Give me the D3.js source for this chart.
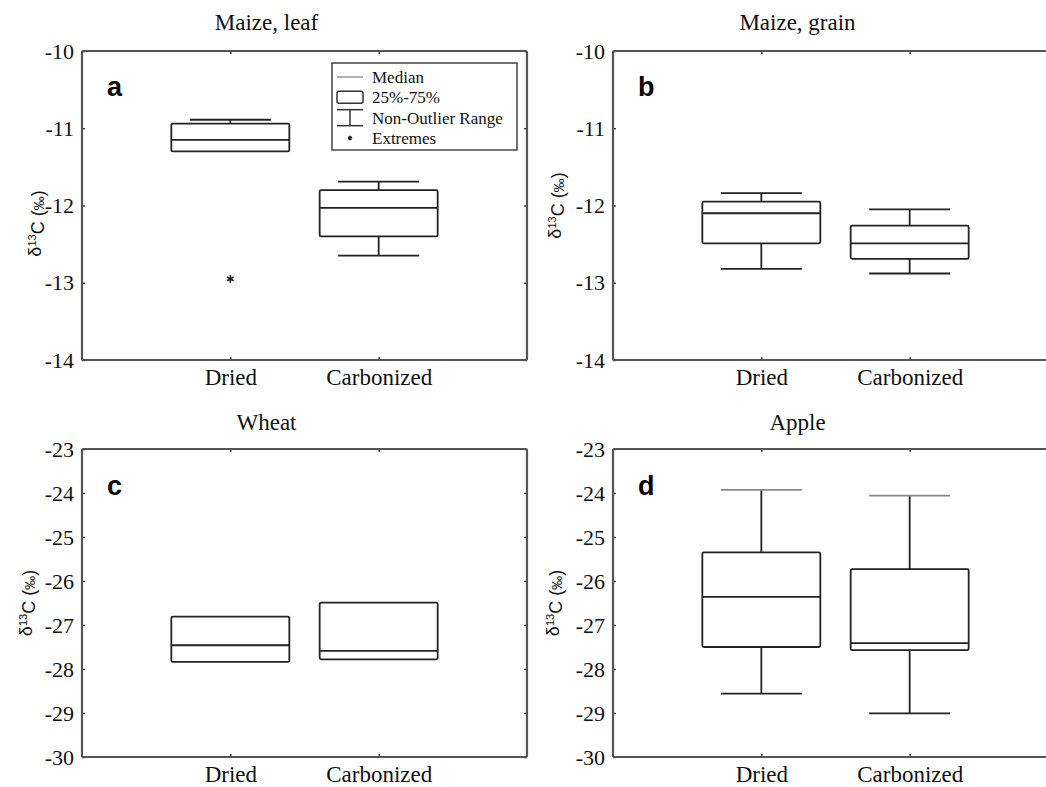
<!DOCTYPE html>
<html>
<head>
<meta charset="utf-8">
<script src="https://cdn.jsdelivr.net/npm/d3@7"></script>
<style>
  body { margin: 0; background: #fff; }
  .tick text { font-family: "Liberation Serif", "Times New Roman", serif; fill: #111; }
  .tick line { stroke: #444; stroke-width: 1.5; }
</style>
</head>
<body>
<div id="chart"></div>
<script>
// Data
const categories = ["Dried", "Carbonized"];
const panelTitles = ["Maize, leaf", "Maize, grain", "Wheat", "Apple"];
const panelLetters = ["a", "b", "c", "d"];
const yDomains = [[-14, -10], [-14, -10], [-30, -23], [-30, -23]];
const maizeTicks = [-14, -13, -12, -11, -10];
const c3Ticks = [-30, -29, -28, -27, -26, -25, -24, -23];

// box stats: lo / hi = non-outlier range (null = no whisker)
const maizeLeaf = [
  { cat: "Dried", lo: null, q1: -11.30, med: -11.15, q3: -10.94, hi: -10.89 },
  { cat: "Carbonized", lo: -12.65, q1: -12.40, med: -12.03, q3: -11.80, hi: -11.69 },
];
const maizeGrain = [
  { cat: "Dried", lo: -12.82, q1: -12.49, med: -12.10, q3: -11.95, hi: -11.84 },
  { cat: "Carbonized", lo: -12.88, q1: -12.69, med: -12.49, q3: -12.26, hi: -12.05 },
];
const wheat = [
  { cat: "Dried", lo: null, q1: -27.84, med: -27.46, q3: -26.81, hi: null },
  { cat: "Carbonized", lo: null, q1: -27.78, med: -27.59, q3: -26.49, hi: null },
];
const apple = [
  { cat: "Dried", lo: -28.56, q1: -27.50, med: -26.36, q3: -25.35, hi: -23.93 },
  { cat: "Carbonized", lo: -29.01, q1: -27.57, med: -27.41, q3: -25.73, hi: -24.06 },
];
const maizeLeafExtremes = [{ cat: "Dried", v: -12.95 }];

const legendLabels = ["Median", "25%-75%", "Non-Outlier Range", "Extremes"];

function draw() {
  const panels = [
    { stats: maizeLeaf, extremes: maizeLeafExtremes, ticks: maizeTicks },
    { stats: maizeGrain, extremes: [], ticks: maizeTicks },
    { stats: wheat, extremes: [], ticks: c3Ticks },
    { stats: apple, extremes: [], ticks: c3Ticks },
  ];

  // Dimensions
  let dimensions = {
    width: 1046,
    height: 787,
    ctrWidth: 445,
    lefts: [82, 613, 82, 613],
    tops: [51, 51, 449, 449],
    heights: [309, 309, 308, 308],
    labelDx: [-47, -58, -56, -60],
    labelDy: [18, 0, 0, 0],
    boxWidth: 118,
    capWidth: 81,
  };

  const svg = d3
    .select("#chart")
    .append("svg")
    .attr("width", dimensions.width)
    .attr("height", dimensions.height);

  // plain hyphen, like the original figure
  const tickFmt = (d) => String(d);

  panels.forEach((p, i) => {
    const w = dimensions.ctrWidth;
    const h = dimensions.heights[i];

    const ctr = svg
      .append("g")
      .attr("transform", `translate(${dimensions.lefts[i]}, ${dimensions.tops[i]})`);

    // Scales
    const xScale = d3.scalePoint().domain(categories).range([0, w]).padding(1);
    const yScale = d3.scaleLinear().domain(yDomains[i]).range([h, 0]);

    // Axes (ticks point inward, the frame is drawn separately)
    const leftAxis = ctr
      .append("g")
      .call(
        d3.axisLeft(yScale).tickValues(p.ticks).tickFormat(tickFmt)
          .tickSizeInner(-3).tickSizeOuter(0).tickPadding(8)
      );
    leftAxis.selectAll("text").style("font-size", "22px");

    ctr
      .append("g")
      .attr("transform", `translate(${w}, 0)`)
      .call(d3.axisRight(yScale).tickValues(p.ticks).tickSizeInner(-3).tickSizeOuter(0).tickFormat(""));

    const bottomAxis = ctr
      .append("g")
      .attr("transform", `translate(0, ${h})`)
      .call(d3.axisBottom(xScale).tickSizeInner(-3).tickSizeOuter(0).tickPadding(9));
    bottomAxis.selectAll("text").style("font-size", "23px");

    ctr
      .append("g")
      .call(d3.axisTop(xScale).tickSizeInner(-3).tickSizeOuter(0).tickFormat(""));

    ctr.selectAll(".domain").remove();

    // Frame
    ctr
      .append("rect")
      .attr("width", w)
      .attr("height", h)
      .attr("fill", "none")
      .attr("stroke", "#555")
      .attr("stroke-width", 2.2)
      .attr("rx", 1.5);

    // Boxes
    const boxes = ctr
      .selectAll(".box")
      .data(p.stats)
      .join("g")
      .attr("class", "box")
      .attr("transform", (d) => `translate(${xScale(d.cat)}, 0)`)
      .attr("stroke", "#222")
      .attr("stroke-width", 1.8)
      .attr("fill", "none");

    // whiskers
    ["hi", "lo"].forEach((key) => {
      const edge = key === "hi" ? "q3" : "q1";
      const withWhisker = boxes.filter((d) => d[key] !== null);
      withWhisker
        .append("line")
        .attr("x1", 0)
        .attr("x2", 0)
        .attr("y1", (d) => yScale(d[edge]))
        .attr("y2", (d) => yScale(d[key]));
      withWhisker
        .append("line")
        .attr("x1", -dimensions.capWidth / 2)
        .attr("x2", dimensions.capWidth / 2)
        .attr("y1", (d) => yScale(d[key]))
        .attr("y2", (d) => yScale(d[key]))
        .attr("stroke", key === "hi" && i === 3 ? "#888" : null);
    });

    boxes
      .append("rect")
      .attr("x", -dimensions.boxWidth / 2)
      .attr("width", dimensions.boxWidth)
      .attr("y", (d) => yScale(d.q3))
      .attr("height", (d) => yScale(d.q1) - yScale(d.q3))
      .attr("fill", "#fff")
      .attr("rx", 1.5);

    boxes
      .append("line")
      .attr("x1", -dimensions.boxWidth / 2)
      .attr("x2", dimensions.boxWidth / 2)
      .attr("y1", (d) => yScale(d.med))
      .attr("y2", (d) => yScale(d.med));

    // Extremes
    ctr
      .selectAll(".extreme")
      .data(p.extremes)
      .join("path")
      .attr("class", "extreme")
      .attr("d", d3.symbol(d3.symbolAsterisk, 40))
      .attr("transform", (d) => `translate(${xScale(d.cat)}, ${yScale(d.v)})`)
      .attr("stroke", "#222")
      .attr("stroke-width", 1.6)
      .attr("fill", "none");

    // Title
    ctr
      .append("text")
      .attr("x", w / 2 - 38)
      .attr("y", i < 2 ? -21 : -19)
      .attr("text-anchor", "middle")
      .style("font-family", "Liberation Serif, Times New Roman, serif")
      .style("font-size", "23px")
      .attr("fill", "#111")
      .text(panelTitles[i]);

    // Panel letter
    ctr
      .append("text")
      .attr("x", 25)
      .attr("y", i < 2 ? 45 : 46)
      .style("font-family", "Liberation Sans, Arial, sans-serif")
      .style("font-weight", "bold")
      .style("font-size", "27px")
      .attr("fill", "#000")
      .text(panelLetters[i]);

    // Y label: δ13C (‰)
    const yLabel = ctr
      .append("text")
      .attr(
        "transform",
        `translate(${dimensions.labelDx[i]}, ${h / 2 + dimensions.labelDy[i]}) rotate(-90)`
      )
      .attr("text-anchor", "middle")
      .attr("dy", "0.35em")
      .style("font-family", "Liberation Sans, Arial, sans-serif")
      .style("font-size", "18px")
      .attr("fill", "#111");
    yLabel.append("tspan").text("δ");
    yLabel.append("tspan").attr("dy", "-0.45em").style("font-size", "11px").text("13");
    yLabel.append("tspan").attr("dy", "0.45em").text("C (");
    yLabel.append("tspan").style("font-size", "14px").text("‰");
    yLabel.append("tspan").text(")");

    // Legend only in panel a
    if (i === 0) {
      const legend = ctr.append("g").attr("transform", "translate(250, 12)");
      legend
        .append("rect")
        .attr("width", 185)
        .attr("height", 87)
        .attr("fill", "#fff")
        .attr("stroke", "#444")
        .attr("stroke-width", 1.5);

      const rowY = d3.scalePoint().domain(legendLabels).range([14, 75]);

      legend
        .selectAll(".leg-text")
        .data(legendLabels)
        .join("text")
        .attr("class", "leg-text")
        .attr("x", 40)
        .attr("y", (d) => rowY(d))
        .attr("dy", "0.35em")
        .style("font-family", "Liberation Serif, Times New Roman, serif")
        .style("font-size", "17px")
        .attr("fill", "#111")
        .text((d) => d);

      const sym = legend.append("g").attr("fill", "none").attr("stroke", "#333").attr("stroke-width", 1.5);
      const y0 = rowY("Median");
      sym.append("line").attr("x1", 5).attr("x2", 31).attr("y1", y0).attr("y2", y0).attr("stroke", "#999");
      const y1 = rowY("25%-75%");
      sym.append("rect").attr("x", 5).attr("y", y1 - 6).attr("width", 26).attr("height", 12).attr("rx", 2);
      const y2 = rowY("Non-Outlier Range");
      sym.append("line").attr("x1", 5).attr("x2", 31).attr("y1", y2 - 8).attr("y2", y2 - 8);
      sym.append("line").attr("x1", 5).attr("x2", 31).attr("y1", y2 + 8).attr("y2", y2 + 8);
      sym.append("line").attr("x1", 18).attr("x2", 18).attr("y1", y2 - 8).attr("y2", y2 + 8);
      const y3 = rowY("Extremes");
      legend
        .append("path")
        .attr("d", d3.symbol(d3.symbolAsterisk, 14))
        .attr("transform", `translate(18, ${y3})`)
        .attr("stroke", "#222")
        .attr("stroke-width", 1.5);
    }
  });
}

draw();
</script>
</body>
</html>
